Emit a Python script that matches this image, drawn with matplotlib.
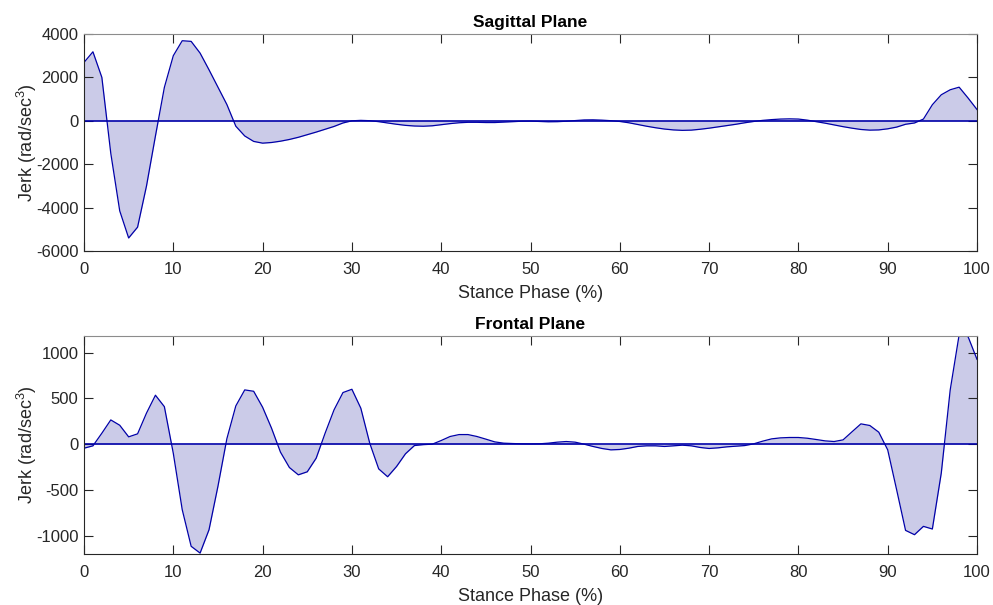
import matplotlib
matplotlib.use("Agg")
import matplotlib.pyplot as plt
import numpy as np

plt.rcParams['font.family'] = ['Liberation Sans', 'DejaVu Sans']
plt.rcParams['mathtext.fontset'] = 'custom'
plt.rcParams['mathtext.rm'] = 'Liberation Sans'
plt.rcParams['axes.unicode_minus'] = False

stance = list(range(0, 101))

sagittal = [2690, 3180, 2000, -1500, -4150, -5400, -4900, -3000, -700, 1540,
            3000, 3690, 3660, 3120, 2350, 1550, 750, -250, -700, -950,
            -1030, -1000, -940, -860, -760, -640, -520, -390, -260, -100,
            0, 20, 5, -40, -100, -160, -210, -240, -250, -230,
            -180, -130, -90, -70, -70, -80, -80, -60, -40, -20,
            -15, -30, -45, -40, -20, 10, 40, 45, 30, 5,
            -30, -90, -170, -250, -320, -380, -420, -440, -430, -390,
            -340, -280, -220, -160, -90, -30, 20, 55, 80, 90,
            80, 30, -40, -110, -190, -270, -340, -400, -430, -420,
            -370, -290, -160, -100, 80, 740, 1200, 1430, 1550, 1050,
            520]

frontal = [-44, -18, 120, 265, 207, 80, 113, 340, 535, 410,
           -100, -716, -1116, -1190, -935, -460, 60, 418, 593, 578,
           404, 175, -87, -255, -335, -302, -153, 120, 375, 564,
           600, 393, 10, -270, -356, -244, -105, -15, -5, 0,
           40, 84, 105, 105, 84, 55, 25, 11, 7, 4,
           3, 4, 11, 22, 29, 22, 0, -25, -47, -62,
           -58, -44, -25, -18, -18, -25, -18, -11, -18, -36,
           -47, -40, -29, -22, -15, 4, 33, 58, 69, 73,
           73, 65, 51, 36, 29, 47, 135, 222, 204, 131,
           -62, -498, -942, -989, -898, -927, -316, 593, 1195, 1175,
           927]

titles = ["Sagittal Plane", "Frontal Plane"]
xlabel = "Stance Phase (%)"
ylabel = "Jerk (rad/sec$^3$)"
xticks = [0, 10, 20, 30, 40, 50, 60, 70, 80, 90, 100]
yticks_top = [-6000, -4000, -2000, 0, 2000, 4000]
yticks_bot = [-1000, -500, 0, 500, 1000]

fig = plt.figure(figsize=(9.93, 6.05), dpi=100)
W, H = 993, 605
ax1 = fig.add_axes([84 / W, 1 - 251 / H, (977 - 84) / W, (251 - 34) / H])
ax2 = fig.add_axes([84 / W, 1 - 554 / H, (977 - 84) / W, (554 - 336) / H])

fill_c = '#CBCBE8'
line_c = '#0000A8'
txt_c = '#262626'

for ax, data, title, yt, yl in [
        (ax1, sagittal, titles[0], yticks_top, (-6000, 4000)),
        (ax2, frontal, titles[1], yticks_bot, (-1200, 1182))]:
    x = np.array(stance)
    y = np.array(data)
    ax.fill_between(x, y, 0, color=fill_c, linewidth=0)
    ax.plot(x, y, color=line_c, linewidth=0.9)
    ax.axhline(0, color=line_c, linewidth=1.2)
    ax.set_xlim(0, 100)
    ax.set_ylim(*yl)
    ax.set_xticks(xticks)
    ax.set_yticks(yt)
    ax.tick_params(direction='in', length=6.5, width=0.8, top=True, right=True,
                   labelsize=12, colors=txt_c)
    ax.tick_params(axis='x', pad=8)
    ax.tick_params(axis='y', pad=4)
    for s in ['left', 'bottom', 'right']:
        ax.spines[s].set_color(txt_c)
        ax.spines[s].set_linewidth(0.8)
    ax.spines['top'].set_color('#8c8c8c')
    ax.spines['top'].set_linewidth(0.8)
    ax.set_title(title, fontsize=12.5, fontweight='bold', color='black', pad=5)
    ax.set_xlabel(xlabel, fontsize=13, color=txt_c, labelpad=6)
    ax.set_ylabel(ylabel, fontsize=13, color=txt_c, labelpad=-2)

fig.savefig("out.png", dpi=100)
